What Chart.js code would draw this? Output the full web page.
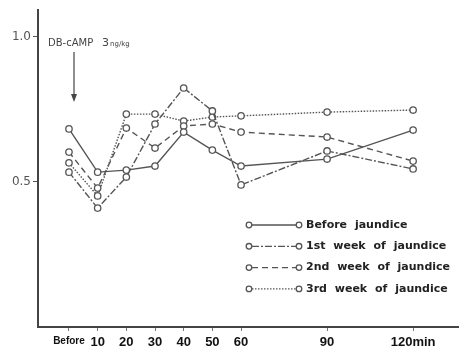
<!DOCTYPE html>
<html>
<head>
<meta charset="utf-8">
<script src="https://cdn.jsdelivr.net/npm/chart.js@4/dist/chart.umd.min.js"></script>
<style>
  body { margin: 0; background: #fff; }
  canvas { display: block; }
</style>
</head>
<body>
<canvas id="chart" width="459" height="351"></canvas>
<script>
// sampling times (min), "Before" placed at 0
const minutes = [0, 10, 20, 30, 40, 50, 60, 90, 120];
const tickLabels = ["Before", "10", "20", "30", "40", "50", "60", "90", "120min"];
const yTicks = [0.5, 1.0];

const beforeJaundice = [0.683, 0.534, 0.541, 0.555, 0.672, 0.610, 0.555, 0.579, 0.679];
const week1 = [0.534, 0.410, 0.517, 0.700, 0.824, 0.745, 0.490, 0.607, 0.545];
const week2 = [0.603, 0.479, 0.686, 0.617, 0.693, 0.700, 0.672, 0.655, 0.572];
const week3 = [0.566, 0.452, 0.734, 0.734, 0.710, 0.724, 0.728, 0.741, 0.748];

const seriesNames = ["Before jaundice", "1st week of jaundice", "2nd week of jaundice", "3rd week of jaundice"];
const dashes = [[], [7, 2, 2, 2], [6, 4], [1.5, 1.5]];

const ink = "#555";
const pts = (vals) => vals.map((v, i) => ({ x: minutes[i], y: v }));

const datasets = [beforeJaundice, week1, week2, week3].map((vals, i) => ({
  label: seriesNames[i],
  data: pts(vals),
  borderColor: ink,
  borderWidth: 1.4,
  borderDash: dashes[i],
  pointRadius: 3.2,
  pointBorderWidth: 1.3,
  pointBorderColor: ink,
  pointBackgroundColor: "#fff",
  tension: 0,
}));

// drop the label overhang padding so the axis runs to the canvas edge
const noPad = (s) => {
  s.paddingLeft = s.paddingRight = s.paddingTop = s.paddingBottom = 0;
};

// legend rows and the injection note, drawn on the canvas
const extras = {
  id: "extras",
  afterDraw(chart) {
    const ctx = chart.ctx;
    ctx.save();
    ctx.strokeStyle = ink;
    ctx.fillStyle = "#222";

    datasets.forEach((ds, i) => {
      const y = 225 + i * 21.3;
      ctx.setLineDash(ds.borderDash);
      ctx.lineWidth = 1.3;
      ctx.beginPath();
      ctx.moveTo(252, y);
      ctx.lineTo(296, y);
      ctx.stroke();
      ctx.setLineDash([]);
      [249, 299].forEach((cx) => {
        ctx.beginPath();
        ctx.arc(cx, y, 2.8, 0, Math.PI * 2);
        ctx.fillStyle = "#fff";
        ctx.fill();
        ctx.stroke();
      });
      ctx.fillStyle = "#222";
      ctx.font = "bold 11px 'DejaVu Sans', sans-serif";
      ctx.textBaseline = "middle";
      ctx.wordSpacing = "4px";
      ctx.fillText(ds.label, 306, y);
    });

    // DB-cAMP note with arrow
    ctx.wordSpacing = "0px";
    ctx.fillStyle = "#444";
    ctx.textBaseline = "alphabetic";
    ctx.font = "10px 'DejaVu Sans', sans-serif";
    ctx.fillText("DB-cAMP", 48, 46);
    ctx.font = "11px 'DejaVu Sans', sans-serif";
    ctx.fillText("3", 102, 46);
    ctx.font = "7px 'DejaVu Sans', sans-serif";
    ctx.fillText("ng/kg", 110, 46);

    ctx.strokeStyle = "#444";
    ctx.lineWidth = 1.2;
    ctx.beginPath();
    ctx.moveTo(74, 52);
    ctx.lineTo(74, 96);
    ctx.stroke();
    ctx.beginPath();
    ctx.moveTo(71, 94);
    ctx.lineTo(77, 94);
    ctx.lineTo(74, 102);
    ctx.closePath();
    ctx.fillStyle = "#444";
    ctx.fill();
    ctx.restore();
  },
};

new Chart(document.getElementById("chart"), {
  type: "line",
  data: { datasets },
  plugins: [extras],
  options: {
    responsive: false,
    animation: false,
    layout: { autoPadding: false, padding: { top: 10, right: 0, left: 0, bottom: 0 } },
    plugins: { legend: { display: false }, tooltip: { enabled: false } },
    scales: {
      x: {
        type: "linear",
        min: -10.8,
        max: 136,
        afterFit: (s) => { s.height = 24; noPad(s); },
        afterBuildTicks: (s) => { s.ticks = minutes.map((v) => ({ value: v })); },
        border: { display: true, color: "#444", width: 2 },
        grid: { drawOnChartArea: false, drawTicks: true, tickLength: 4, color: "#777" },
        ticks: {
          padding: 4,
          maxRotation: 0,
          autoSkip: false,
          color: "#111",
          font: (c) => ({
            family: "'Liberation Sans Narrow', 'Liberation Sans', sans-serif",
            weight: "bold",
            size: c.tick && c.tick.value === 0 ? 10 : 13,
          }),
          callback: (v) => tickLabels[minutes.indexOf(v)],
        },
      },
      y: {
        min: 0,
        max: 1.093,
        afterFit: (s) => { s.width = 38; noPad(s); },
        afterBuildTicks: (s) => { s.ticks = yTicks.map((v) => ({ value: v })); },
        border: { display: true, color: "#444", width: 2 },
        grid: { drawOnChartArea: false, drawTicks: true, tickLength: 5, color: "#555" },
        ticks: {
          padding: 2,
          color: "#555",
          font: { family: "'DejaVu Sans', sans-serif", size: 12 },
          callback: (v) => v.toFixed(1),
        },
      },
    },
  },
});
</script>
</body>
</html>
